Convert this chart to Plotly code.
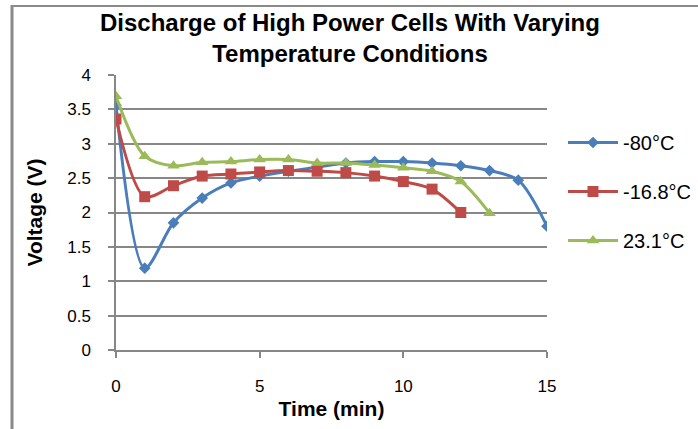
import plotly.graph_objects as go

time_a = list(range(0, 16))
v_m80 = [3.56, 1.19, 1.85, 2.21, 2.43, 2.53, 2.60, 2.66, 2.72, 2.74, 2.74, 2.72, 2.68, 2.61, 2.47, 1.80]
time_b = list(range(0, 13))
v_m16 = [3.36, 2.23, 2.39, 2.53, 2.56, 2.59, 2.61, 2.60, 2.58, 2.53, 2.45, 2.34, 2.00]
time_c = list(range(0, 14))
v_23 = [3.69, 2.82, 2.68, 2.73, 2.74, 2.77, 2.77, 2.72, 2.72, 2.69, 2.65, 2.60, 2.45, 1.99]

names = ["-80°C", "-16.8°C", "23.1°C"]
colors = ["#4A7EBB", "#BE4B48", "#9BBB59"]
title_text = "Discharge of High Power Cells With Varying<br>Temperature Conditions"

W, H = 698, 429
L, R, T, B = 116, 547, 75, 350

fig = go.Figure()
series = [(time_a, v_m80, "diamond", 9), (time_b, v_m16, "square", 11), (time_c, v_23, "triangle-up", 11)]
for i, (x, y, sym, sz) in enumerate(series):
    fig.add_trace(go.Scatter(
        x=x, y=y, name=names[i], mode="lines+markers",
        line=dict(color=colors[i], width=3, shape="spline", smoothing=0.85),
        marker=dict(color=colors[i], symbol=sym, size=sz),
        legendgroup=str(i),
    ))

def px_to_paper_x(px):
    return (px - L) / (R - L)

def px_to_paper_y(py):
    return (B - py) / (B - T)

# outer frame (left and top edges visible in the crop)
fig.add_shape(type="line", xref="paper", yref="paper",
              x0=px_to_paper_x(12), x1=px_to_paper_x(12),
              y0=px_to_paper_y(5), y1=px_to_paper_y(432),
              line=dict(color="#8a8a8a", width=3))
fig.add_shape(type="line", xref="paper", yref="paper",
              x0=px_to_paper_x(11), x1=px_to_paper_x(702),
              y0=px_to_paper_y(6), y1=px_to_paper_y(6),
              line=dict(color="#8a8a8a", width=2))

# two-line title
fig.add_annotation(
    text="<b>" + title_text + "</b>", xref="paper", yref="paper",
    x=px_to_paper_x(350), y=px_to_paper_y(38),
    xanchor="center", yanchor="middle", showarrow=False,
    font=dict(size=24, color="black"),
)

fig.update_layout(
    width=W, height=H,
    margin=dict(l=L, r=W - R, t=T, b=H - B, autoexpand=False),
    paper_bgcolor="white", plot_bgcolor="white",
    font=dict(family="Liberation Sans, Arial, sans-serif", color="black"),
    showlegend=True,
    legend=dict(
        xref="container", yref="container",
        x=563 / W, xanchor="left",
        y=1 - 123 / H, yanchor="top",
        font=dict(size=20, color="black"),
        tracegroupgap=20,
        itemwidth=50,
        bgcolor="rgba(0,0,0,0)",
    ),
    xaxis=dict(
        range=[0, 15], tickmode="linear", tick0=0, dtick=5,
        showgrid=False, zeroline=False,
        showline=True, linecolor="#878787", linewidth=1.5,
        ticks="outside", ticklen=6, tickcolor="#878787", tickwidth=1.5,
        tickfont=dict(size=17, color="black"),
        ticklabelstandoff=14,
        title=dict(text="<b>Time (min)</b>", font=dict(size=21, color="black"), standoff=6),
    ),
    yaxis=dict(
        range=[0, 4], tickmode="linear", tick0=0, dtick=0.5,
        showgrid=True, gridcolor="#878787", gridwidth=1.5,
        zeroline=False,
        showline=True, linecolor="#878787", linewidth=1.5,
        ticks="outside", ticklen=6, tickcolor="#878787", tickwidth=1.5,
        tickfont=dict(size=17, color="black"),
        ticklabelstandoff=14,
        title=dict(text="<b>Voltage (V)</b>", font=dict(size=21, color="black"), standoff=19),
    ),
)

fig.write_html("out.html", config={"displayModeBar": False},
               post_script="document.body.style.margin='0';")
